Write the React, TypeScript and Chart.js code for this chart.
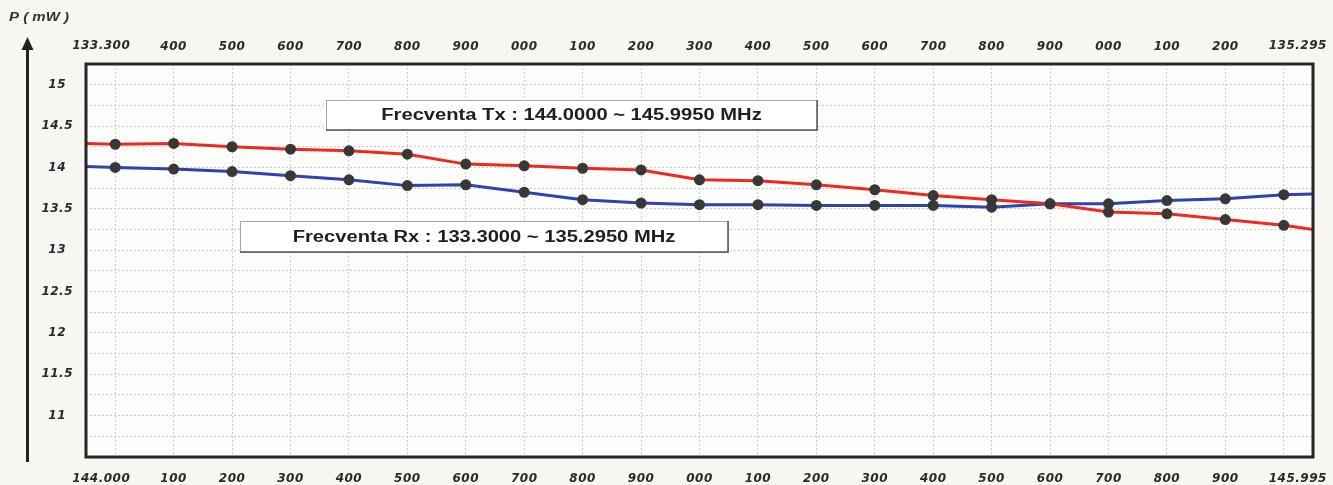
import React, { useEffect, useRef } from "react";
import { Chart, registerables } from "chart.js";

Chart.register(...registerables);

// Top axis: Rx frequencies (MHz), bottom axis: Tx frequencies (MHz)
const rxFreqLabels = ["133.300", "400", "500", "600", "700", "800", "900", "000", "100", "200", "300", "400", "500", "600", "700", "800", "900", "000", "100", "200", "135.295"];
const txFreqLabels = ["144.000", "100", "200", "300", "400", "500", "600", "700", "800", "900", "000", "100", "200", "300", "400", "500", "600", "700", "800", "900", "145.995"];

// Power (mW)
const txPower = [14.28, 14.29, 14.25, 14.22, 14.2, 14.16, 14.04, 14.02, 13.99, 13.97, 13.85, 13.84, 13.79, 13.73, 13.66, 13.61, 13.56, 13.46, 13.44, 13.37, 13.3];
const rxPower = [14.0, 13.98, 13.95, 13.9, 13.85, 13.78, 13.79, 13.7, 13.61, 13.57, 13.55, 13.55, 13.54, 13.54, 13.54, 13.52, 13.56, 13.56, 13.6, 13.62, 13.67];
// where the lines meet the left / right frame
const txEdges = [14.29, 13.25];
const rxEdges = [14.01, 13.68];

const yMin = 10.5;
const yMax = 15.25;
const yLabelled = [11, 11.5, 12, 12.5, 13, 13.5, 14, 14.5, 15];

const txNote = "Frecventa Tx : 144.0000 ~ 145.9950 MHz";
const rxNote = "Frecventa Rx : 133.3000 ~ 135.2950 MHz";
const yTitle = "P ( mW )";

const FONT = '"Liberation Sans", Arial, sans-serif';
const TICK_FONT = '"DejaVu Sans", Verdana, sans-serif';
const TICK_CSS = `italic bold 12px ${TICK_FONT}`;

function buildSeries(values: number[], edges: number[]) {
  const pts = values.map((v, i) => ({ x: i, y: v }));
  return [{ x: -0.5, y: edges[0] }, ...pts, { x: values.length - 0.5, y: edges[1] }];
}

const isEnd = (i: number, arr: string[]) => i === 0 || i === arr.length - 1;

const decor = {
  id: "decor",
  beforeDraw(chart: any) {
    const { ctx, chartArea: a } = chart;
    ctx.save();
    ctx.fillStyle = "#f7f6f2";
    ctx.fillRect(0, 0, chart.width, chart.height);
    ctx.fillStyle = "#fdfdfb";
    ctx.fillRect(a.left, a.top, a.right - a.left, a.bottom - a.top);
    ctx.restore();
    (ctx as any).letterSpacing = "0.5px";
  },
  afterDraw(chart: any) {
    const { ctx, chartArea: a } = chart;
    ctx.save();
    // end labels of both frequency axes (printed a little outward in the original)
    const xs = chart.scales.x;
    ctx.font = TICK_CSS;
    ctx.fillStyle = "#2a2a2a";
    ctx.textBaseline = "middle";
    ctx.textAlign = "center";
    const first = xs.getPixelForValue(0) - 14;
    const last = xs.getPixelForValue(txFreqLabels.length - 1) + 14;
    ctx.fillText(rxFreqLabels[0], first, a.top - 18);
    ctx.fillText(rxFreqLabels[rxFreqLabels.length - 1], last, a.top - 18);
    ctx.fillText(txFreqLabels[0], first, a.bottom + 22);
    ctx.fillText(txFreqLabels[txFreqLabels.length - 1], last, a.bottom + 22);
    ctx.restore();
    (ctx as any).letterSpacing = "0px";
    ctx.save();

    // plot frame
    ctx.strokeStyle = "#262626";
    ctx.lineWidth = 3;
    ctx.strokeRect(a.left, a.top, a.right - a.left, a.bottom - a.top);

    // y arrow axis
    ctx.fillStyle = "#222";
    ctx.fillRect(26, 48, 3, 414);
    ctx.beginPath();
    ctx.moveTo(27.5, 37);
    ctx.lineTo(33.5, 50);
    ctx.lineTo(21.5, 50);
    ctx.closePath();
    ctx.fill();

    const stretched = (text: string, x: number, y: number, font: string, sx: number, align: CanvasTextAlign) => {
      ctx.save();
      ctx.translate(x, y);
      ctx.scale(sx, 1);
      ctx.font = font;
      ctx.textAlign = align;
      ctx.textBaseline = "middle";
      ctx.fillText(text, 0, 0);
      ctx.restore();
    };

    ctx.fillStyle = "#333";
    stretched(yTitle, 9, 18, `bold italic 12px ${FONT}`, 1.25, "left");

    // note boxes
    const box = (l: number, t: number, r: number, b: number, text: string) => {
      ctx.fillStyle = "#ffffff";
      ctx.fillRect(l, t, r - l, b - t);
      ctx.lineWidth = 1;
      ctx.strokeStyle = "#a8a8a8";
      ctx.strokeRect(l + 0.5, t + 0.5, r - l, b - t);
      ctx.strokeStyle = "#555";
      ctx.lineWidth = 1.5;
      ctx.beginPath();
      ctx.moveTo(r, t);
      ctx.lineTo(r, b);
      ctx.lineTo(l, b);
      ctx.stroke();
      ctx.fillStyle = "#1e1e1e";
      stretched(text, (l + r) / 2, (t + b) / 2 + 1, `bold 16px ${FONT}`, 1.26, "center");
    };
    box(326, 100, 817, 130, txNote);
    box(240, 221, 728, 252, rxNote);
    ctx.restore();
  },
};

export default function App() {
  const ref = useRef<HTMLCanvasElement | null>(null);

  useEffect(() => {
    document.body.style.margin = "0";
    const canvas = ref.current;
    if (!canvas) return;
    const tickFont = { family: TICK_FONT, size: 12, weight: "bold" as const, style: "italic" as const };
    const n = txPower.length;
    const gridOpts = { color: "#cdcdcd", lineWidth: 1, drawTicks: false } as any;
    const borderOpts = { display: false, dash: [2, 2] } as any;
    const chart = new Chart(canvas, {
      type: "line",
      data: {
        datasets: [
          {
            label: "Tx",
            data: buildSeries(txPower, txEdges),
            borderColor: "#ec2a1e",
            borderWidth: 3,
            pointBackgroundColor: "#383838",
            pointBorderColor: "#383838",
            pointRadius: (c: any) => (c.raw && Number.isInteger(c.raw.x) ? 4 : 0),
            tension: 0,
            xAxisID: "x",
            yAxisID: "y",
          },
          {
            label: "Rx",
            data: buildSeries(rxPower, rxEdges),
            borderColor: "#2d43ad",
            borderWidth: 3,
            pointBackgroundColor: "#383838",
            pointBorderColor: "#383838",
            pointRadius: (c: any) => (c.raw && Number.isInteger(c.raw.x) ? 4 : 0),
            tension: 0,
            xAxisID: "x",
            yAxisID: "y",
          },
        ],
      },
      options: {
        responsive: false,
        animation: false,
        parsing: false as any,
        layout: { padding: { left: 28, right: 20, top: 0, bottom: 0 } },
        plugins: { legend: { display: false }, tooltip: { enabled: false } },
        scales: {
          x: {
            type: "linear",
            position: "bottom",
            min: -0.5,
            max: n - 0.5,
            afterBuildTicks: (s: any) => {
              s.ticks = txFreqLabels.map((_, i) => ({ value: i }));
            },
            afterFit: (s: any) => {
              s.height = 28;
            },
            grid: gridOpts,
            border: borderOpts,
            ticks: {
              autoSkip: false,
              maxRotation: 0,
              padding: 15,
              color: "#2a2a2a",
              font: tickFont,
              callback: (v: any) => {
                const i = Math.round(v);
                return isEnd(i, txFreqLabels) ? "" : txFreqLabels[i] ?? "";
              },
            },
          },
          x2: {
            type: "linear",
            position: "top",
            min: -0.5,
            max: n - 0.5,
            afterBuildTicks: (s: any) => {
              s.ticks = rxFreqLabels.map((_, i) => ({ value: i }));
            },
            afterFit: (s: any) => {
              s.height = 64;
            },
            grid: { display: false, drawTicks: false },
            border: { display: false },
            ticks: {
              autoSkip: false,
              maxRotation: 0,
              padding: 10,
              color: "#2a2a2a",
              font: tickFont,
              callback: (v: any) => {
                const i = Math.round(v);
                return isEnd(i, rxFreqLabels) ? "" : rxFreqLabels[i] ?? "";
              },
            },
          },
          y: {
            type: "linear",
            position: "left",
            min: yMin,
            max: yMax,
            afterBuildTicks: (s: any) => {
              const t: any[] = [];
              for (let v = yMin; v <= yMax + 1e-9; v += 0.25) t.push({ value: Math.round(v * 100) / 100 });
              s.ticks = t;
            },
            afterFit: (s: any) => {
              s.width = 58;
            },
            grid: gridOpts,
            border: borderOpts,
            ticks: {
              autoSkip: false,
              padding: 14,
              crossAlign: "center",
              color: "#2a2a2a",
              font: tickFont,
              callback: (v: any) => (yLabelled.includes(Number(v)) ? String(v) : ""),
            },
          },
        },
      },
      plugins: [decor],
    } as any);
    return () => chart.destroy();
  }, []);

  return (
    <div style={{ width: 1333, height: 485, position: "relative" }}>
      <canvas ref={ref} width={1333} height={485} style={{ display: "block" }} />
    </div>
  );
}
